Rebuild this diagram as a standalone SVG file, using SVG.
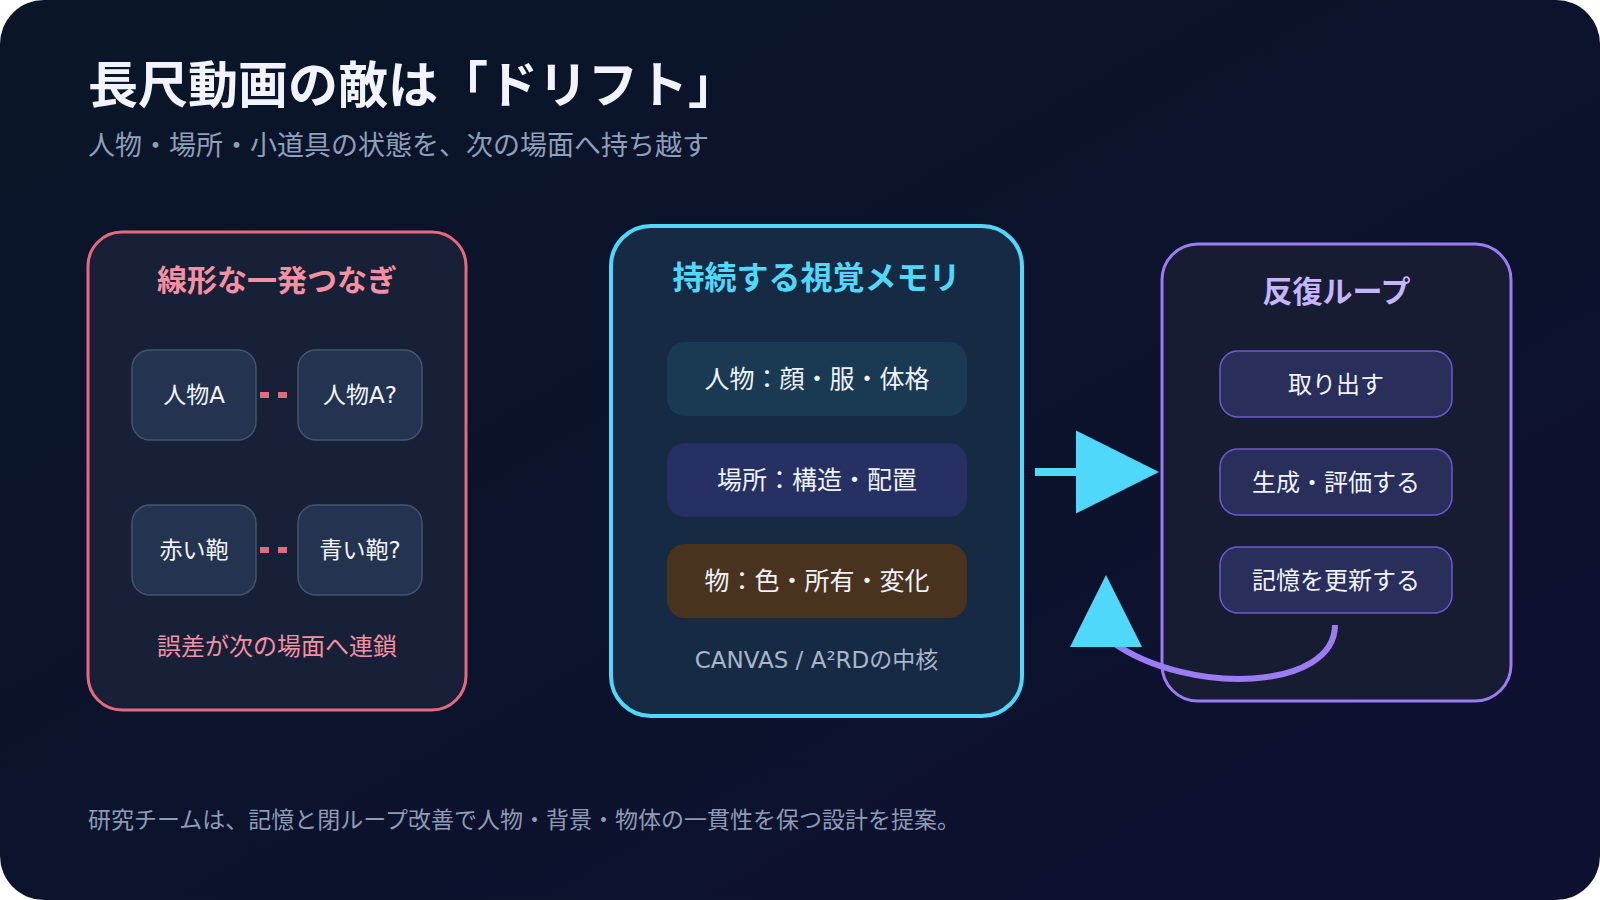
<svg xmlns="http://www.w3.org/2000/svg" width="1600" height="900" viewBox="0 0 1600 900">
<defs>
<linearGradient id="bg" x1="0" y1="0" x2="1" y2="1">
<stop offset="0" stop-color="#0a1628"/>
<stop offset="1" stop-color="#0e1030"/>
</linearGradient>
<marker id="arrR" markerUnits="userSpaceOnUse" viewBox="0 0 84 84" markerWidth="84" markerHeight="84" refX="0" refY="41.5" orient="auto" overflow="visible">
<path d="M0,0 L83,41.5 L0,83 z" fill="#50d8fa"/>
</marker>
<marker id="arrUp" markerUnits="userSpaceOnUse" viewBox="0 0 80 80" markerWidth="80" markerHeight="80" refX="5" refY="42" orient="-90" overflow="visible">
<path d="M0,0 L72,36 L0,72 z" fill="#50d8fa"/>
</marker>
</defs>
<style>
text{font-family:"DejaVu Sans","Noto Sans CJK JP",sans-serif}
.cjk{font-family:"Noto Sans CJK JP","DejaVu Sans",sans-serif}
.c{text-anchor:middle}
.sb{fill:#243350;stroke:#45546d;stroke-width:1.5}
.sbt{font-size:23px;fill:#f1f5fb}
.mbt{font-size:25px;fill:#eef3fb}
.rb{fill:#292e5b;stroke:#6f58d0;stroke-width:1.5}
.rbt{font-size:24px;fill:#f1f3fb}
.dash{stroke:#e8687e;stroke-width:6;stroke-dasharray:9 9}
</style>
<rect x="0" y="0" width="1600" height="900" rx="44" fill="url(#bg)"/>
<g id="header">
<text class="cjk" x="88" y="103" font-size="50" font-weight="700" fill="#f1f4ff">長尺動画の敵は「ドリフト」</text>
<text class="cjk" x="88" y="155" font-size="27" fill="#8f9fba">人物・場所・小道具の状態を、次の場面へ持ち越す</text>
</g>
<g id="panel-linear">
<rect x="88" y="232" width="378" height="478" rx="34" fill="#172036" stroke="#e8687e" stroke-width="3"/>
<text class="cjk c" x="277" y="291" font-size="30" font-weight="700" fill="#f590a3">線形な一発つなぎ</text>
<g id="node-a"><rect class="sb" x="132" y="350" width="124" height="90" rx="18"/><text class="sbt c" x="194" y="403">人物A</text></g>
<g id="node-a2"><rect class="sb" x="298" y="350" width="124" height="90" rx="18"/><text class="sbt c" x="360" y="403">人物A?</text></g>
<g id="node-red"><rect class="sb" x="132" y="505" width="124" height="90" rx="18"/><text class="sbt c" x="194" y="558">赤い鞄</text></g>
<g id="node-blue"><rect class="sb" x="298" y="505" width="124" height="90" rx="18"/><text class="sbt c" x="360" y="558">青い鞄?</text></g>
<text class="cjk c" x="277" y="655" font-size="24" fill="#f590a3">誤差が次の場面へ連鎖</text>
</g>
<g id="panel-memory">
<rect x="611" y="226" width="411" height="490" rx="40" fill="#162a44" stroke="#50d8fa" stroke-width="4"/>
<text class="cjk c" x="816.5" y="289" font-size="32" font-weight="700" fill="#50d8fa">持続する視覚メモリ</text>
<g id="mem-person"><rect x="667" y="342" width="300" height="74" rx="18" fill="#1a3a53"/><text class="mbt c" x="817" y="388">人物：顔・服・体格</text></g>
<g id="mem-place"><rect x="667" y="443" width="300" height="74" rx="18" fill="#263063"/><text class="mbt c" x="817" y="489">場所：構造・配置</text></g>
<g id="mem-object"><rect x="667" y="544" width="300" height="74" rx="18" fill="#4a331e"/><text class="mbt c" x="817" y="590" fill="#fde7c2">物：色・所有・変化</text></g>
<text class="c" x="816.5" y="668" font-size="23" fill="#a9b5c9">CANVAS / A²RDの中核</text>
</g>
<g id="panel-loop">
<rect x="1162" y="244" width="349" height="457" rx="36" fill="#181c33" stroke="#9b7df3" stroke-width="3"/>
<text class="cjk c" x="1336.5" y="302" font-size="30" font-weight="700" fill="#c4b5fd">反復ループ</text>
<g id="loop-retrieve"><rect class="rb" x="1220" y="351" width="232" height="66" rx="18"/><text class="rbt c" x="1336" y="393">取り出す</text></g>
<g id="loop-generate"><rect class="rb" x="1220" y="449" width="232" height="66" rx="18"/><text class="rbt c" x="1336" y="491">生成・評価する</text></g>
<g id="loop-update"><rect class="rb" x="1220" y="547" width="232" height="66" rx="18"/><text class="rbt c" x="1336" y="589">記憶を更新する</text></g>
</g>
<g id="connectors">
<line class="dash" x1="260" y1="395" x2="287" y2="395"/>
<line class="dash" x1="260" y1="550" x2="287" y2="550"/>
<line x1="1035" y1="472" x2="1076" y2="472" stroke="#50d8fa" stroke-width="8" marker-end="url(#arrR)"/>
<path d="M1335 625 C1335 690 1190 697 1112 642" fill="none" stroke="#9b7df3" stroke-width="6" marker-end="url(#arrUp)"/>
</g>
<g id="footer">
<text class="cjk" x="88" y="828" font-size="23" fill="#8d9bb4">研究チームは、記憶と閉ループ改善で人物・背景・物体の一貫性を保つ設計を提案。</text>
</g>
</svg>
